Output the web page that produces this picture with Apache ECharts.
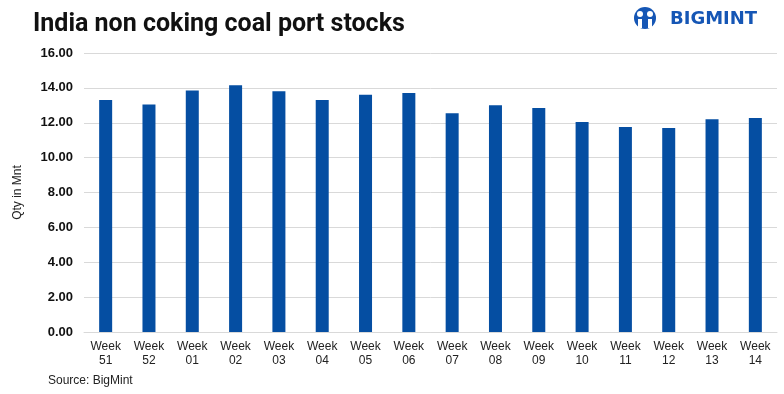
<!DOCTYPE html>
<html>
<head>
<meta charset="utf-8">
<script src="https://cdn.jsdelivr.net/npm/echarts@6/dist/echarts.min.js"></script>
<style>
html,body{margin:0;padding:0;background:#fff;}
#chart{width:784px;height:394px;}
</style>
</head>
<body>
<div id="chart"></div>
<script>
var categories = ['Week\n51','Week\n52','Week\n01','Week\n02','Week\n03','Week\n04','Week\n05','Week\n06','Week\n07','Week\n08','Week\n09','Week\n10','Week\n11','Week\n12','Week\n13','Week\n14'];
var stocks = [13.3, 13.05, 13.85, 14.15, 13.8, 13.3, 13.6, 13.7, 12.55, 13.0, 12.85, 12.05, 11.75, 11.7, 12.2, 12.27];
var yTicks = { min: 0, max: 16, interval: 2 };

var chart = echarts.init(document.getElementById('chart'));
chart.setOption({
  animation: false,
  backgroundColor: '#ffffff',
  title: {
    text: 'India non coking coal port stocks',
    left: 28, top: 7,
    textStyle: { fontFamily: 'Liberation Sans Narrow, Roboto, sans-serif', fontWeight: 'bold', fontSize: 25, color: '#111' }
  },
  grid: { left: 84, right: 7, top: 53, bottom: 62 },
  xAxis: {
    type: 'category',
    data: categories,
    axisLine: { show: true, lineStyle: { color: '#d9d9d9', width: 1 } },
    axisTick: { show: false },
    axisLabel: { color: '#222', fontFamily: 'Liberation Sans, Arial, sans-serif', fontSize: 12, lineHeight: 14, margin: 8, interval: 0 }
  },
  yAxis: {
    type: 'value',
    min: yTicks.min, max: yTicks.max, interval: yTicks.interval,
    name: 'Qty in Mnt',
    nameLocation: 'middle',
    nameGap: 60,
    nameRotate: 90,
    nameTextStyle: { color: '#222', fontFamily: 'Liberation Sans, Arial, sans-serif', fontSize: 12 },
    axisLine: { show: false },
    axisTick: { show: false },
    splitLine: { lineStyle: { color: '#d9d9d9', width: 1 } },
    axisLabel: {
      color: '#111', fontWeight: 'bold', fontFamily: 'Liberation Sans, Arial, sans-serif', fontSize: 13, margin: 11,
      formatter: function (v) { return v.toFixed(2); }
    }
  },
  series: [{
    type: 'bar',
    data: stocks,
    barWidth: 13,
    itemStyle: { color: '#054ea2' }
  }],
  graphic: [
    { type: 'circle', shape: { cx: 645, cy: 18, r: 11 }, style: { fill: '#1556b5' } },
    { type: 'circle', shape: { cx: 640, cy: 14, r: 3 }, style: { fill: '#fff' } },
    { type: 'circle', shape: { cx: 650, cy: 14, r: 3 }, style: { fill: '#fff' } },
    { type: 'rect', shape: { x: 638, y: 19, width: 4, height: 9 }, style: { fill: '#fff' } },
    { type: 'rect', shape: { x: 648, y: 19, width: 4, height: 9 }, style: { fill: '#fff' } },
    { type: 'text', left: 670, top: 10, style: { text: 'BIGMINT', fill: '#1556b5', font: 'bold 18px "DejaVu Sans", sans-serif', letterSpacing: 3.5 } },
    { type: 'text', left: 48, top: 375, style: { text: 'Source: BigMint', fill: '#222', font: '12px "Liberation Sans", Arial, sans-serif' } }
  ]
});
</script>
</body>
</html>
